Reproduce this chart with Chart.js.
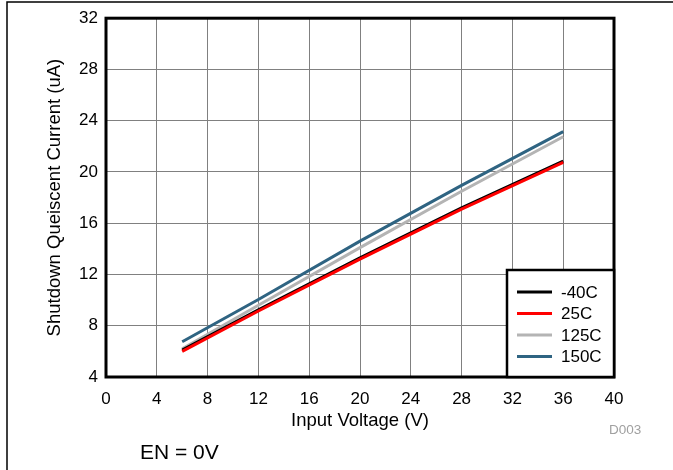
<!DOCTYPE html>
<html>
<head>
<meta charset="utf-8">
<script src="https://cdn.jsdelivr.net/npm/chart.js@4/dist/chart.umd.min.js"></script>
<style>
    html, body { margin: 0; padding: 0; background: #fff; }
    #wrap { width: 673px; height: 470px; position: relative; }
</style>
</head>
<body>
<div id="wrap"><canvas id="shutdownChart" width="673" height="470"></canvas></div>
<script>
// Shutdown quiescent current vs input voltage (EN = 0V)
const voltages = [6, 12, 20, 28, 36];
const seriesNames = ['-40C', '25C', '125C', '150C'];
const currentM40 = [6.1, 9.25, 13.3, 17.2, 20.85];
const current25 = [6.0, 9.15, 13.2, 17.1, 20.75];
const current125 = [6.2, 9.6, 14.1, 18.5, 22.75];
const current150 = [6.75, 10.05, 14.6, 18.95, 23.15];
const xTicks = [0, 4, 8, 12, 16, 20, 24, 28, 32, 36, 40];
const yTicks = [4, 8, 12, 16, 20, 24, 28, 32];

const seriesColors = ['#000000', '#ff0000', '#b4b4b4', '#2f6482'];
const seriesValues = [currentM40, current25, current125, current150];
const drawOrder = [2, 1, 3, 4];

const FONT = '"Liberation Sans", Arial, sans-serif';

function toPoints(values) {
    return voltages.map((v, i) => ({ x: v, y: values[i] }));
}

// frame, plot box, legend box and notes
const decorPlugin = {
    id: 'decor',
    beforeDraw(chart) {
        const c = chart.ctx;
        c.save();
        c.fillStyle = '#fff';
        c.fillRect(0, 0, chart.width, chart.height);
        c.strokeStyle = '#000';
        c.lineWidth = 1.5;
        c.beginPath();
        c.moveTo(7, chart.height);
        c.lineTo(7, 2);
        c.lineTo(chart.width, 2);
        c.stroke();
        c.restore();
    },
    afterDraw(chart) {
        const c = chart.ctx;
        const a = chart.chartArea;
        c.save();
        c.strokeStyle = '#000';
        c.lineWidth = 3;
        c.strokeRect(a.left, a.top, a.right - a.left, a.bottom - a.top);

        // legend inside plot, bottom right
        const bw = 107, bh = 107;
        const bx = a.right - bw, by = a.bottom - bh;
        c.fillStyle = '#fff';
        c.fillRect(bx, by, bw, bh);
        c.lineWidth = 2.5;
        c.strokeRect(bx, by, bw, bh);
        c.font = '17px ' + FONT;
        c.textBaseline = 'middle';
        c.textAlign = 'left';
        chart.data.datasets.forEach((ds, i) => {
            const y = by + 22 + i * 21.5;
            c.strokeStyle = ds.borderColor;
            c.lineWidth = 3;
            c.beginPath();
            c.moveTo(bx + 10, y);
            c.lineTo(bx + 45, y);
            c.stroke();
            c.fillStyle = '#000';
            c.fillText(ds.label, bx + 54, y + 1);
        });

        c.fillStyle = '#000';
        c.font = '21px ' + FONT;
        c.fillText('EN = 0V', 140, 453);
        c.fillStyle = '#a0a0a0';
        c.font = '13.5px ' + FONT;
        c.fillText('D003', 609, 430);
        c.restore();
    }
};

new Chart(document.getElementById('shutdownChart'), {
    type: 'line',
    data: {
        datasets: seriesNames.map((name, i) => ({
            label: name,
            data: toPoints(seriesValues[i]),
            borderColor: seriesColors[i],
            backgroundColor: seriesColors[i],
            borderWidth: 3,
            pointRadius: 0,
            tension: 0,
            order: drawOrder[i]
        }))
    },
    options: {
        responsive: false,
        animation: false,
        layout: { padding: { left: 44, right: 59, top: 18, bottom: 38 } },
        plugins: { legend: { display: false }, tooltip: { enabled: false } },
        scales: {
            x: {
                type: 'linear',
                min: 0,
                max: 40,
                afterBuildTicks: s => { s.ticks = xTicks.map(v => ({ value: v })); },
                afterFit: s => { s.height = 55; },
                grid: { color: '#808080', lineWidth: 1, drawTicks: false },
                border: { display: false },
                ticks: { color: '#000', padding: 12, font: { family: FONT, size: 17 }, maxRotation: 0 },
                title: {
                    display: true,
                    text: 'Input Voltage (V)',
                    color: '#000',
                    font: { family: FONT, size: 18.5 },
                    padding: 0
                }
            },
            y: {
                type: 'linear',
                min: 4,
                max: 32,
                afterBuildTicks: s => { s.ticks = yTicks.map(v => ({ value: v })); },
                afterFit: s => { s.width = 62; },
                grid: { color: '#808080', lineWidth: 1, drawTicks: false },
                border: { display: false },
                ticks: { color: '#000', padding: 8, font: { family: FONT, size: 17 } },
                title: {
                    display: true,
                    text: 'Shutdown Queiscent Current (uA)',
                    color: '#000',
                    font: { family: FONT, size: 18.5 },
                    padding: 0
                }
            }
        }
    },
    plugins: [decorPlugin]
});
</script>
</body>
</html>
